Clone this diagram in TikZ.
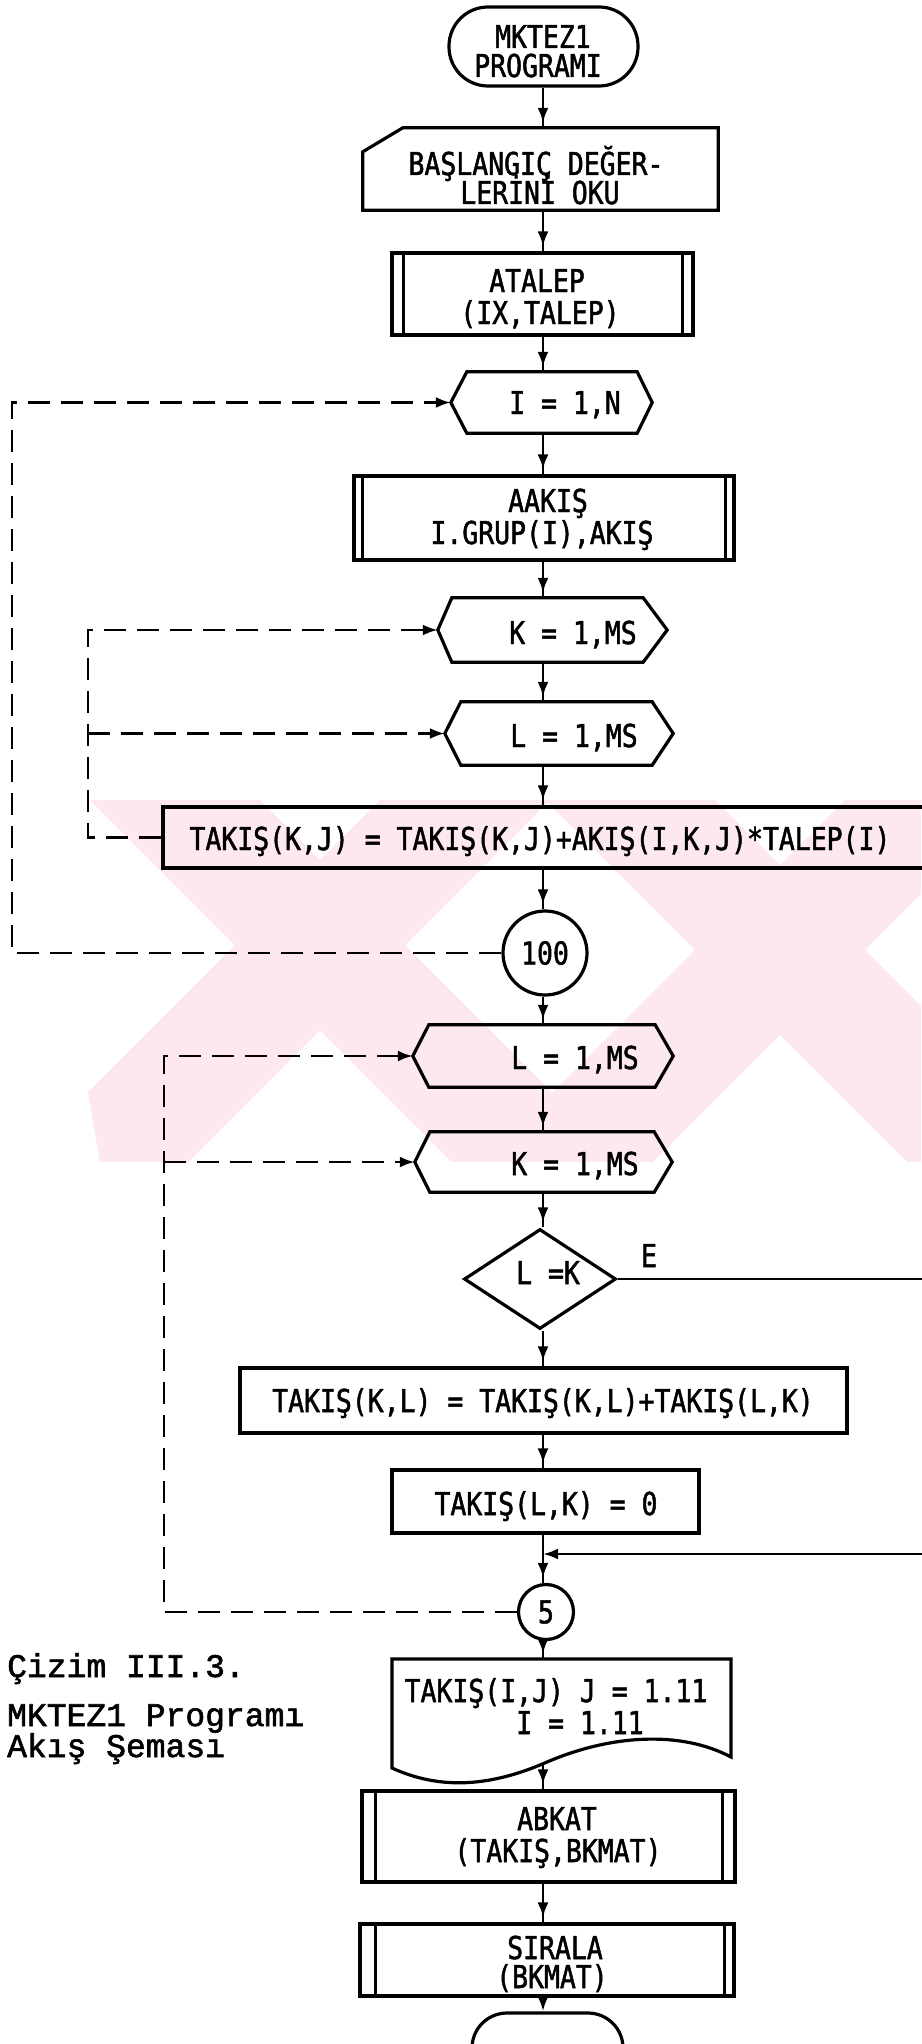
\documentclass[tikz,border=0pt]{standalone}
\usepackage{fontspec}
\newfontfamily\chartfont{DejaVu Sans Mono}[FakeStretch=0.84,FakeBold=1.5]
\newfontfamily\notefont{Liberation Mono}[FakeBold=1.8]
\usetikzlibrary{arrows.meta,decorations.markings,shapes.geometric}

\definecolor{wmpink}{RGB}{253,233,237}

\tikzset{
  outline/.style={draw=black, line width=3.2pt, line join=miter},
  frame/.style={outline, rectangle, inner sep=0pt},
  anchorbox/.style={rectangle, inner sep=0pt},
  label/.style={font=\chartfont\fontsize{31.5}{31.5}\selectfont, inner sep=0pt, anchor=base},
  note/.style={font=\notefont\fontsize{33}{33}\selectfont, inner sep=0pt, anchor=base west},
  flow/.style={line width=2.8pt, postaction={decorate},
    decoration={markings, mark=at position -5pt with {\arrow{Latex[length=15pt,width=11pt]}}}},
  plainline/.style={line width=2.8pt},
  loopline/.style={line width=2.8pt, dash pattern=on 22pt off 11pt},
  loopin/.style={loopline, -{Latex[length=15pt,width=11pt]}},
  joinin/.style={plainline, -{Latex[length=15pt,width=11pt]}},
}

% inner vertical bars of a predefined-process box
\newcommand\sidebars[3]{%
  \draw[outline] ([xshift=#2pt]#1.north west) -- ([xshift=#2pt]#1.south west);
  \draw[outline] ([xshift=-#3pt]#1.north east) -- ([xshift=-#3pt]#1.south east);}
% loop (preparation) hexagon around a body node: left and right point depth
\newcommand\hexframe[3]{%
  \draw[outline] (#1.north west) -- (#1.north east) -- ([xshift=#3pt]#1.east)
    -- (#1.south east) -- (#1.south west) -- ([xshift=-#2pt]#1.west) -- cycle;
  \coordinate (#1-tip) at ([xshift=-#2pt]#1.west);}

\begin{document}
\begin{tikzpicture}[x=1pt,y=-1pt]
\useasboundingbox (0,0) rectangle (921,2044);

% faint background emblem
\begin{scope}
  \clip (37,800) -- (921,800) -- (921,1162) -- (100,1162) -- cycle;
  \fill[wmpink] (90,800) -- (260,800) -- (622,1162) -- (452,1162) -- cycle;
  \fill[wmpink] (380,800) -- (550,800) -- (188,1162) -- (18,1162) -- cycle;
  \fill[wmpink] (545,800) -- (715,800) -- (1077,1162) -- (907,1162) -- cycle;
  \fill[wmpink] (845,800) -- (1015,800) -- (653,1162) -- (483,1162) -- cycle;
\end{scope}

\coordinate (axis) at (543,0);
\coordinate (L1) at (12,0);
\coordinate (L2) at (88,0);
\coordinate (L3) at (164,0);
\coordinate (R) at (935,0);

% start
\node[frame, rounded corners=39pt, minimum width=189, minimum height=79] (start) at (543.5,46.5) {};
\node[label] (startA) at (543,48) {MKTEZ1};
\node[label] (startB) at (538,77) {PROGRAMI};

% manual input
\node[anchorbox, minimum width=355, minimum height=82] (readin) at (540.5,169) {};
\draw[outline] ([yshift=-24pt]readin.north west) -- ([xshift=40pt]readin.north west)
  -- (readin.north east) -- (readin.south east) -- (readin.south west) -- cycle;
\node[label] (readinA) at (536,175) {BAŞLANGIÇ DEĞER-};
\node[label] (readinB) at (540,204) {LERİNİ OKU};

% ATALEP
\node[frame, minimum width=301, minimum height=82] (atalep) at (542.5,294) {};
\sidebars{atalep}{13}{12}
\node[label] (atalepA) at (537,292) {ATALEP};
\node[label] (atalepB) at (540,324) {(IX,TALEP)};

% I loop
\node[anchorbox, minimum width=170, minimum height=61] (hI) at (552,402.5) {};
\hexframe{hI}{16}{15}
\node[label] (hIt) at (565,414) {I = 1,N};

% AAKIS
\node[frame, minimum width=380, minimum height=84] (aakis) at (544,518) {};
\sidebars{aakis}{10}{10}
\node[label] (aakisA) at (548,512) {AAKIŞ};
\node[label] (aakisB) at (542,544) {I.GRUP(I),AKIŞ};

% K loop
\node[anchorbox, minimum width=191, minimum height=64] (hK) at (547.5,630) {};
\hexframe{hK}{14}{24}
\node[label] (hKt) at (573,644) {K = 1,MS};

% L loop
\node[anchorbox, minimum width=191, minimum height=63] (hL) at (556.5,733.5) {};
\hexframe{hL}{16}{21}
\node[label] (hLt) at (574,747) {L = 1,MS};

% accumulation
\node[frame, minimum width=777, minimum height=61] (accum) at (551.5,837.5) {};
\node[label] (accumt) at (540,850) {TAKIŞ(K,J) = TAKIŞ(K,J)+AKIŞ(I,K,J)*TALEP(I)};

% connector 100
\node[outline, circle, minimum size=84, inner sep=0pt, font=\chartfont\fontsize{31.5}{31.5}\selectfont] (c100) at (545,953) {100};

% second L loop
\node[anchorbox, minimum width=226, minimum height=62] (hLb) at (542,1056) {};
\hexframe{hLb}{16}{18}
\node[label] (hLbt) at (575,1069) {L = 1,MS};

% second K loop
\node[anchorbox, minimum width=224, minimum height=60] (hKb) at (542,1162) {};
\hexframe{hKb}{15}{18}
\node[label] (hKbt) at (575,1175) {K = 1,MS};

% decision
\node[outline, diamond, minimum width=152, minimum height=100, inner sep=0pt] (dec) at (540,1279) {};
\node[label] (dect) at (548,1284) {L =K};
\node[label] (yes) at (649,1267) {E};

% symmetric sum
\node[frame, minimum width=607, minimum height=65] (sum) at (543.5,1400.5) {};
\node[label] (sumt) at (543,1412) {TAKIŞ(K,L) = TAKIŞ(K,L)+TAKIŞ(L,K)};

% reset
\node[frame, minimum width=307, minimum height=63] (zero) at (545.5,1501.5) {};
\node[label] (zerot) at (546,1515) {TAKIŞ(L,K) = 0};

\coordinate (join) at (543,1554);

% connector 5
\node[outline, circle, minimum size=55, inner sep=0pt, font=\chartfont\fontsize{31.5}{31.5}\selectfont] (c5) at (546,1612) {5};

% printed output
\node[anchorbox, minimum width=339, minimum height=98] (doc) at (561.5,1708) {};
\draw[outline] (392,1659) -- (731,1659) -- (731,1757)
  .. controls (680,1730) and (610,1735) .. (547,1762)
  .. controls (490,1787) and (440,1790) .. (392,1768) -- cycle;
\coordinate (docwave) at (543,1763);
\node[label] (docA) at (556,1702) {TAKIŞ(I,J) J = 1.11};
\node[label] (docB) at (580,1734) {I = 1.11};

% ABKAT
\node[frame, minimum width=373, minimum height=91] (abkat) at (548.5,1836.5) {};
\sidebars{abkat}{15}{14}
\node[label] (abkatA) at (557,1830) {ABKAT};
\node[label] (abkatB) at (558,1862) {(TAKIŞ,BKMAT)};

% SIRALA
\node[frame, minimum width=374, minimum height=72] (sirala) at (547,1960) {};
\sidebars{sirala}{17}{11}
\node[label] (siralaA) at (555,1959) {SIRALA};
\node[label] (siralaB) at (552,1988) {(BKMAT)};

% end
\node[frame, rounded corners=35pt, minimum width=151, minimum height=70] (stop) at (547.5,2048) {};

% main flow
\draw[flow] (start.south -| axis) -- (readin.north -| axis);
\draw[flow] (readin.south -| axis) -- (atalep.north -| axis);
\draw[flow] (atalep.south -| axis) -- (hI.north -| axis);
\draw[flow] (hI.south -| axis) -- (aakis.north -| axis);
\draw[flow] (aakis.south -| axis) -- (hK.north -| axis);
\draw[flow] (hK.south -| axis) -- (hL.north -| axis);
\draw[flow] (hL.south -| axis) -- (accum.north -| axis);
\draw[flow] (accum.south -| axis) -- (c100.north -| axis);
\draw[flow] (c100.south -| axis) -- (hLb.north -| axis);
\draw[flow] (hLb.south -| axis) -- (hKb.north -| axis);
\draw[flow] (hKb.south -| axis) -- (dec.north -| axis);
\draw[flow] (dec.south -| axis) -- (sum.north -| axis);
\draw[flow] (sum.south -| axis) -- (zero.north -| axis);
\draw[plainline] (zero.south -| axis) -- (join);
\draw[flow] (join) -- (c5.north -| axis);
\draw[flow] (c5.south -| axis) -- (doc.north -| axis);
\draw[flow] (docwave) -- (abkat.north -| axis);
\draw[flow] (abkat.south -| axis) -- (sirala.north -| axis);
\draw[joinin] (sirala.south -| axis) -- (stop.north -| axis);

% yes branch around the update boxes
\draw[plainline] (dec.east) -- (dec.east -| R) -- (join -| R);
\draw[joinin] (join -| R) -- (join);

% loop returns
\draw[loopin] (c100.west) -- (c100.west -| L1) -- (hI-tip -| L1) -- (hI-tip);
\draw[loopin] (accum.west) -- (accum.west -| L2) -- (hK-tip -| L2) -- (hK-tip);
\draw[loopin] (hL-tip -| L2) -- (hL-tip);
\draw[loopin] (c5.west) -- (c5.west -| L3) -- (hLb-tip -| L3) -- (hLb-tip);
\draw[loopin] (hKb-tip -| L3) -- (hKb-tip);

% caption
\node[note] (capA) at (7,1677) {Çizim III.3.};
\node[note] (capB) at (7,1726) {MKTEZ1 Programı};
\node[note] (capC) at (7,1757) {Akış Şeması};
\end{tikzpicture}
\end{document}
